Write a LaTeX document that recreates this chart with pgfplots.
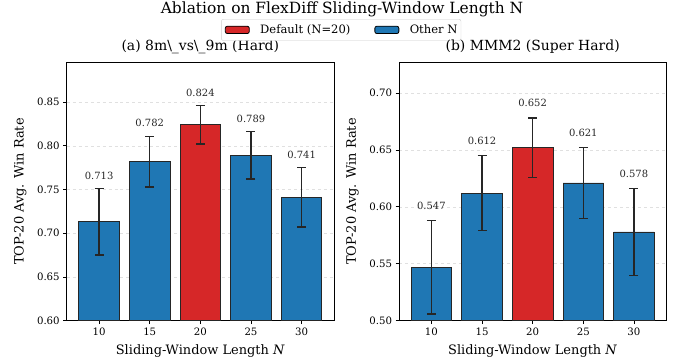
\documentclass[border=0pt]{standalone}
\usepackage{pgfplots}
\pgfplotsset{compat=1.18}
\usepackage{pgfplotstable}
\usepackage{fontspec}
\setmainfont{DejaVu Serif}
\definecolor{mblue}{RGB}{31,119,180}
\definecolor{mred}{RGB}{214,39,40}
\newcommand{\legfont}{\fontsize{11.6}{13}\selectfont}

\pgfplotstableread{
x y e lab
0 0.713 0.038 0.713
1 0.782 0.029 0.782
3 0.789 0.027 0.789
4 0.741 0.034 0.741
}\Ablue
\pgfplotstableread{
x y e lab
2 0.824 0.022 0.824
}\Ared
\pgfplotstableread{
x y e lab
0 0.547 0.041 0.547
1 0.612 0.033 0.612
3 0.621 0.031 0.621
4 0.578 0.038 0.578
}\Bblue
\pgfplotstableread{
x y e lab
2 0.652 0.026 0.652
}\Bred

\pgfplotsset{
  common/.style={
    scale only axis, width=267.3bp, height=258.4bp,
    xmin=-0.64, xmax=4.64,
    xtick={0,1,2,3,4}, xticklabels={10,15,20,25,30},
    tick align=outside, tick pos=left, major tick length=3.5bp,
    every tick/.style={black, line width=0.8bp},
    axis line style={black, line width=0.8bp},
    ymajorgrids, grid style={dashed, black!12, line width=0.6bp},
    yticklabel style={/pgf/number format/.cd, fixed, fixed zerofill, precision=2},
    /pgf/number format/assume math mode=true,
    tick label style={font=\fontsize{10.2}{12}\selectfont},
    label style={font=\fontsize{13}{15}\selectfont},
    xlabel={Sliding-Window Length \textit{N}},
    ylabel={TOP-20 Avg. Win Rate},
    xlabel style={at={(axis description cs:0.5,-0.1327)}, anchor=base},
    ylabel style={at={(axis description cs:-0.174,0.5)}, anchor=center},
    title style={font=\fontsize{14}{16}\selectfont, at={(axis description cs:0.5,1)}, anchor=base, yshift=6.3bp},
  },
  barp/.style={ybar, bar width=0.8, bar shift=0pt, draw=black!85, line width=0.8bp, fill=#1,
    error bars/.cd, y dir=both, y explicit,
    error bar style={black!85, line width=1.3bp},
    error mark options={rotate=90, mark size=4.5bp, line width=1.3bp, black!85}},
  labp/.style={draw=none, mark=none, forget plot, nodes near coords, point meta=explicit symbolic,
    nodes near coords style={anchor=base, yshift=2.3bp, inner sep=0pt, font=\fontsize{10}{12}\selectfont, text=black!85}},
}

\begin{document}
\begin{tikzpicture}
\path[use as bounding box] (0,0) rectangle (684bp,364bp);
\node[font=\fontsize{15.5}{18}\selectfont, anchor=base] at (342bp,350.5bp) {Ablation on FlexDiff Sliding-Window Length N};

\begin{axis}[common, at={(66.7bp,43.3bp)}, anchor=south west,
  ymin=0.6, ymax=0.8955, ytick={0.60,0.65,...,0.86},
  title={(a) 8m\textbackslash\_vs\textbackslash\_9m (Hard)},
  legend columns=2,
  legend cell align=left,
  legend style={at={(axis description cs:1.0269,1.1254)}, anchor=center, draw=black!20, rounded corners=2bp,
    inner xsep=3.5bp, inner ysep=5.5bp, font=\legfont, nodes={inner sep=0pt, font=\legfont},
    /tikz/every odd column/.append style={column sep=10.5bp},
    /tikz/every even column/.append style={column sep=24bp}},
  legend image code/.code={\draw[#1, draw=black, line width=0.8bp] (0bp,-3.65bp) rectangle (24bp,3.65bp);},
]
\addplot[barp=mred] table[x=x, y=y, y error=e] {\Ared};
\addlegendentry{Default (N=20)}
\addplot[barp=mblue] table[x=x, y=y, y error=e] {\Ablue};
\addlegendentry{Other N}
\addplot[labp] table[x=x, y expr=\thisrow{y}+\thisrow{e}+0.008, meta=lab] {\Ared};
\addplot[labp] table[x=x, y expr=\thisrow{y}+\thisrow{e}+0.008, meta=lab] {\Ablue};
\end{axis}

\begin{axis}[common, at={(399bp,43.3bp)}, anchor=south west,
  ymin=0.5, ymax=0.727, ytick={0.50,0.55,...,0.71},
  title={(b) MMM2 (Super Hard)},
]
\addplot[forget plot, barp=mred] table[x=x, y=y, y error=e] {\Bred};
\addplot[forget plot, barp=mblue] table[x=x, y=y, y error=e] {\Bblue};
\addplot[labp] table[x=x, y expr=\thisrow{y}+\thisrow{e}+0.008, meta=lab] {\Bred};
\addplot[labp] table[x=x, y expr=\thisrow{y}+\thisrow{e}+0.008, meta=lab] {\Bblue};
\end{axis}
\end{tikzpicture}
\end{document}
